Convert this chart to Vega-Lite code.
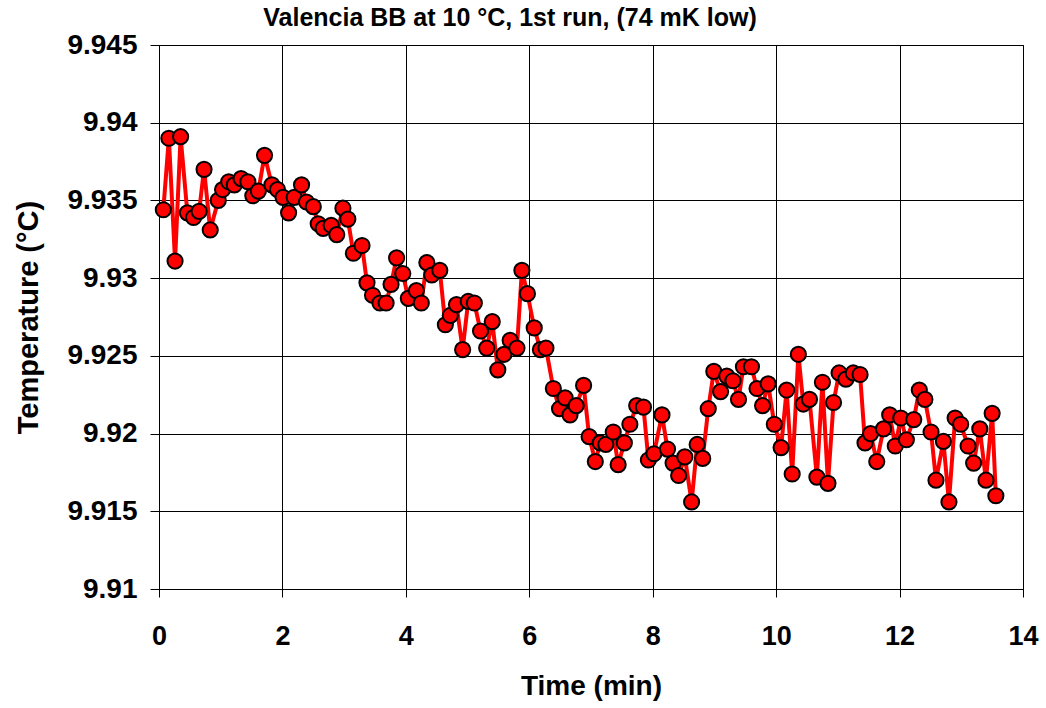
{
  "$schema": "https://vega.github.io/schema/vega-lite/v6.json",
  "width": 864,
  "height": 544,
  "autosize": {"type": "none"},
  "padding": {"left": 159, "top": 45, "right": 23, "bottom": 119},
  "background": "white",
  "config": {
    "font": "Liberation Sans",
    "view": {"stroke": "black", "strokeWidth": 1}
  },
  "title": {
    "text": "Valencia BB at 10 °C, 1st run, (74 mK low)",
    "font": "Liberation Sans",
    "fontSize": 25,
    "fontWeight": "bold",
    "color": "black",
    "anchor": "middle",
    "dx": -81,
    "dy": 25,
    "baseline": "bottom",
    "offset": 0
  },
  "data": {
    "values": [
      {"t": 0.07, "temp": 9.9344}, {"t": 0.16, "temp": 9.9390}, {"t": 0.26, "temp": 9.9311}, {"t": 0.35, "temp": 9.9391},
      {"t": 0.46, "temp": 9.9342}, {"t": 0.56, "temp": 9.9339}, {"t": 0.65, "temp": 9.9343}, {"t": 0.73, "temp": 9.9370},
      {"t": 0.83, "temp": 9.9331}, {"t": 0.96, "temp": 9.9350}, {"t": 1.03, "temp": 9.9357}, {"t": 1.13, "temp": 9.9362},
      {"t": 1.22, "temp": 9.9360}, {"t": 1.33, "temp": 9.9364}, {"t": 1.44, "temp": 9.9362}, {"t": 1.52, "temp": 9.9353},
      {"t": 1.61, "temp": 9.9356}, {"t": 1.71, "temp": 9.9379}, {"t": 1.83, "temp": 9.9360}, {"t": 1.92, "temp": 9.9357},
      {"t": 2.01, "temp": 9.9352}, {"t": 2.10, "temp": 9.9342}, {"t": 2.19, "temp": 9.9352}, {"t": 2.31, "temp": 9.9360},
      {"t": 2.39, "temp": 9.9349}, {"t": 2.50, "temp": 9.9346}, {"t": 2.58, "temp": 9.9335}, {"t": 2.66, "temp": 9.9332},
      {"t": 2.79, "temp": 9.9334}, {"t": 2.88, "temp": 9.9328}, {"t": 2.98, "temp": 9.9345}, {"t": 3.06, "temp": 9.9338},
      {"t": 3.15, "temp": 9.9316}, {"t": 3.29, "temp": 9.9321}, {"t": 3.37, "temp": 9.9297}, {"t": 3.46, "temp": 9.9289},
      {"t": 3.58, "temp": 9.9284}, {"t": 3.68, "temp": 9.9284}, {"t": 3.76, "temp": 9.9296}, {"t": 3.85, "temp": 9.9313},
      {"t": 3.95, "temp": 9.9303}, {"t": 4.04, "temp": 9.9287}, {"t": 4.17, "temp": 9.9292}, {"t": 4.25, "temp": 9.9284},
      {"t": 4.34, "temp": 9.9310}, {"t": 4.42, "temp": 9.9302}, {"t": 4.55, "temp": 9.9305}, {"t": 4.64, "temp": 9.9270},
      {"t": 4.72, "temp": 9.9276}, {"t": 4.82, "temp": 9.9283}, {"t": 4.92, "temp": 9.9254}, {"t": 5.01, "temp": 9.9285},
      {"t": 5.11, "temp": 9.9284}, {"t": 5.21, "temp": 9.9266}, {"t": 5.31, "temp": 9.9255}, {"t": 5.40, "temp": 9.9272},
      {"t": 5.49, "temp": 9.9241}, {"t": 5.59, "temp": 9.9251}, {"t": 5.69, "temp": 9.9260}, {"t": 5.80, "temp": 9.9255},
      {"t": 5.88, "temp": 9.9305}, {"t": 5.97, "temp": 9.9290}, {"t": 6.08, "temp": 9.9268}, {"t": 6.18, "temp": 9.9254},
      {"t": 6.27, "temp": 9.9255}, {"t": 6.39, "temp": 9.9229}, {"t": 6.49, "temp": 9.9216}, {"t": 6.58, "temp": 9.9223},
      {"t": 6.66, "temp": 9.9212}, {"t": 6.76, "temp": 9.9218}, {"t": 6.88, "temp": 9.9231}, {"t": 6.97, "temp": 9.9198},
      {"t": 7.07, "temp": 9.9182}, {"t": 7.15, "temp": 9.9194}, {"t": 7.24, "temp": 9.9193}, {"t": 7.36, "temp": 9.9201},
      {"t": 7.44, "temp": 9.9180}, {"t": 7.54, "temp": 9.9194}, {"t": 7.63, "temp": 9.9206}, {"t": 7.74, "temp": 9.9218},
      {"t": 7.85, "temp": 9.9217}, {"t": 7.93, "temp": 9.9183}, {"t": 8.02, "temp": 9.9187}, {"t": 8.15, "temp": 9.9212},
      {"t": 8.24, "temp": 9.9190}, {"t": 8.33, "temp": 9.9181}, {"t": 8.42, "temp": 9.9173}, {"t": 8.52, "temp": 9.9185},
      {"t": 8.63, "temp": 9.9156}, {"t": 8.72, "temp": 9.9193}, {"t": 8.81, "temp": 9.9184}, {"t": 8.90, "temp": 9.9216},
      {"t": 8.99, "temp": 9.9240}, {"t": 9.10, "temp": 9.9227}, {"t": 9.20, "temp": 9.9237}, {"t": 9.30, "temp": 9.9234},
      {"t": 9.39, "temp": 9.9222}, {"t": 9.47, "temp": 9.9243}, {"t": 9.60, "temp": 9.9243}, {"t": 9.69, "temp": 9.9229},
      {"t": 9.78, "temp": 9.9218}, {"t": 9.87, "temp": 9.9232}, {"t": 9.97, "temp": 9.9206}, {"t": 10.08, "temp": 9.9191},
      {"t": 10.17, "temp": 9.9228}, {"t": 10.26, "temp": 9.9174}, {"t": 10.36, "temp": 9.9251}, {"t": 10.44, "temp": 9.9219},
      {"t": 10.54, "temp": 9.9222}, {"t": 10.66, "temp": 9.9172}, {"t": 10.75, "temp": 9.9233}, {"t": 10.84, "temp": 9.9168},
      {"t": 10.93, "temp": 9.9220}, {"t": 11.02, "temp": 9.9239}, {"t": 11.13, "temp": 9.9235}, {"t": 11.25, "temp": 9.9239},
      {"t": 11.36, "temp": 9.9238}, {"t": 11.44, "temp": 9.9194}, {"t": 11.53, "temp": 9.9200}, {"t": 11.63, "temp": 9.9182},
      {"t": 11.74, "temp": 9.9203}, {"t": 11.84, "temp": 9.9212}, {"t": 11.93, "temp": 9.9192}, {"t": 12.02, "temp": 9.9210},
      {"t": 12.11, "temp": 9.9196}, {"t": 12.23, "temp": 9.9209}, {"t": 12.32, "temp": 9.9228}, {"t": 12.41, "temp": 9.9222},
      {"t": 12.51, "temp": 9.9201}, {"t": 12.59, "temp": 9.9170}, {"t": 12.71, "temp": 9.9195}, {"t": 12.80, "temp": 9.9156},
      {"t": 12.90, "temp": 9.9210}, {"t": 12.99, "temp": 9.9206}, {"t": 13.11, "temp": 9.9192}, {"t": 13.20, "temp": 9.9181},
      {"t": 13.30, "temp": 9.9203}, {"t": 13.40, "temp": 9.9170}, {"t": 13.50, "temp": 9.9213}, {"t": 13.56, "temp": 9.9160}
    ]
  },
  "encoding": {
    "x": {
      "field": "t",
      "type": "quantitative",
      "scale": {"domain": [0, 14], "nice": false, "zero": false},
      "axis": {
        "values": [0, 2, 4, 6, 8, 10, 12, 14],
        "title": "Time (min)",
        "titleFont": "Liberation Sans",
        "titleFontSize": 28,
        "titleFontWeight": "bold",
        "titleColor": "black",
        "titlePadding": 23,
        "labelFont": "Liberation Sans",
        "labelFontSize": 27,
        "labelFontWeight": "bold",
        "labelColor": "black",
        "labelPadding": 26,
        "labelFlush": false,
        "tickSize": 8,
        "tickColor": "black",
        "domainColor": "black",
        "grid": true,
        "gridColor": "black",
        "gridOpacity": 1,
        "gridWidth": 1
      }
    },
    "y": {
      "field": "temp",
      "type": "quantitative",
      "scale": {"domain": [9.91, 9.945], "nice": false, "zero": false},
      "axis": {
        "values": [9.91, 9.915, 9.92, 9.925, 9.93, 9.935, 9.94, 9.945],
        "format": ".3~f",
        "title": "Temperature (°C)",
        "titleFont": "Liberation Sans",
        "titleFontSize": 29,
        "titleFontWeight": "bold",
        "titleColor": "black",
        "titleX": -131,
        "titleY": 272,
        "titleAngle": -90,
        "titleAlign": "center",
        "titleBaseline": "middle",
        "labelFont": "Liberation Sans",
        "labelFontSize": 28,
        "labelFontWeight": "bold",
        "labelColor": "black",
        "labelPadding": 13,
        "labelFlush": false,
        "tickSize": 9,
        "tickColor": "black",
        "domainColor": "black",
        "grid": true,
        "gridColor": "black",
        "gridOpacity": 1,
        "gridWidth": 1
      }
    }
  },
  "layer": [
    {"mark": {"type": "line", "color": "#ff0000", "strokeWidth": 4}},
    {"mark": {"type": "point", "filled": true, "fill": "#ff0000", "stroke": "black", "strokeWidth": 2, "size": 230, "opacity": 1, "shape": "circle"}}
  ]
}
